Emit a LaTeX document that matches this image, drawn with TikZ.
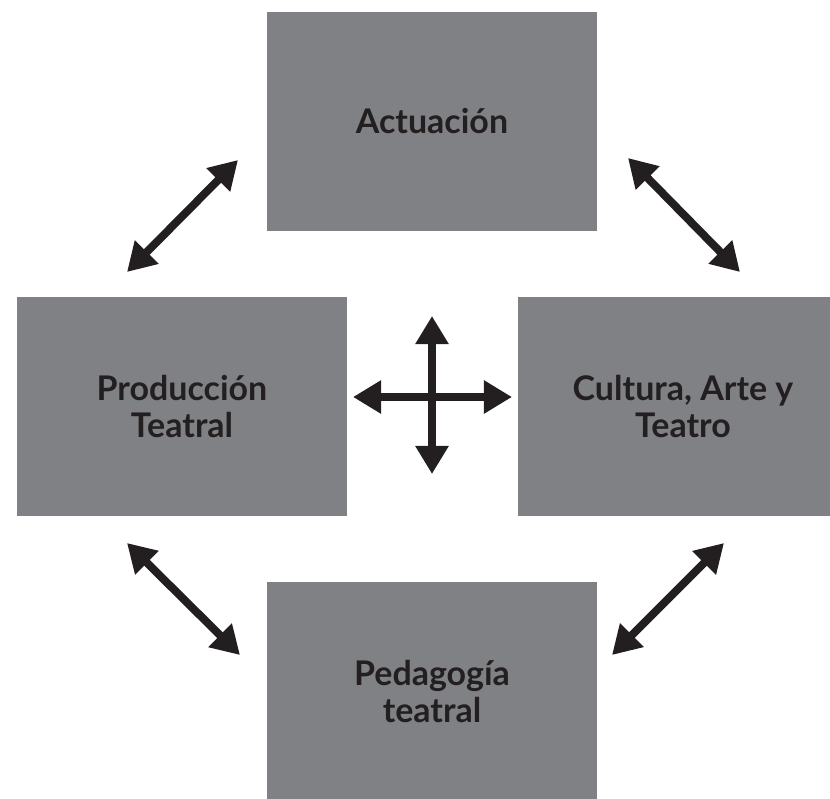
\documentclass[tikz,border=0pt]{standalone}
\usepackage{fontspec}
\setmainfont{Lato}
\usetikzlibrary{arrows.meta}

\definecolor{boxgray}{HTML}{808184}
\definecolor{inkdark}{HTML}{231F20}

\tikzset{
  areabox/.style={fill=boxgray, draw=none, inner sep=0pt, align=center,
    text=inkdark, font=\fontsize{29}{32}\selectfont\bfseries},
  dblarrow/.style={line width=6.8pt, draw=inkdark,
    {Triangle[length=24pt,width=27pt]}-{Triangle[length=24pt,width=27pt]}}
}

\begin{document}
\begin{tikzpicture}[x=0.03cm,y=-0.03cm]
\path[use as bounding box, clip] (0,0) rectangle (830,798);

% areas
\node[areabox, minimum width=330*0.03cm, minimum height=219*0.03cm] (actuacion) at (432,121.5) {Actuación};
\node[areabox, minimum width=330*0.03cm, minimum height=219*0.03cm] (produccion) at (182,406.5) {Producción\\Teatral};
\node[areabox, minimum width=330*0.03cm, minimum height=219*0.03cm] (cultura) at (683,406.5) {Cultura, Arte y\\Teatro};
\node[areabox, minimum width=330*0.03cm, minimum height=219*0.03cm] (pedagogia) at (432,691.5) {Pedagogía\\teatral};

% arrow ends
\coordinate (tl1) at (238,160);
\coordinate (tl2) at (127,272);
\coordinate (tr1) at (628,158);
\coordinate (tr2) at (740,272);
\coordinate (bl1) at (127,543);
\coordinate (bl2) at (240,655);
\coordinate (br1) at (724,543);
\coordinate (br2) at (612,655);
\coordinate (cw) at (353,397);
\coordinate (ce) at (512,397);
\coordinate (cn) at (432,316);
\coordinate (cs) at (432,474);

\draw[dblarrow] (tl1) -- (tl2);
\draw[dblarrow] (tr1) -- (tr2);
\draw[dblarrow] (bl1) -- (bl2);
\draw[dblarrow] (br1) -- (br2);
\draw[dblarrow] (cw) -- (ce);
\draw[dblarrow] (cn) -- (cs);
\end{tikzpicture}
\end{document}
